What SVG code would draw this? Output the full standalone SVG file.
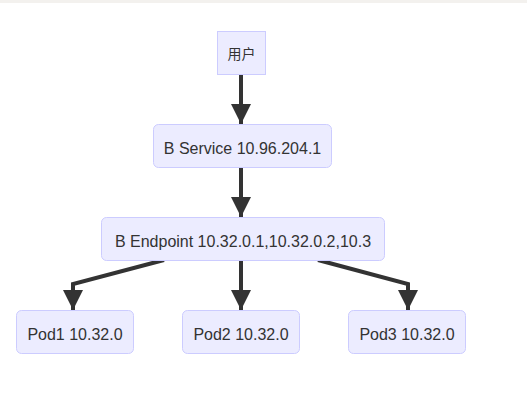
<svg xmlns="http://www.w3.org/2000/svg" width="527" height="396" viewBox="0 0 527 396">
<style>
.n{fill:#ECECFF;stroke:#CCCCFF;stroke-width:1}
.t{font-family:"Liberation Sans","Noto Sans CJK SC",sans-serif;font-size:16px;fill:#333;text-anchor:middle;dominant-baseline:central}
.c{font-size:14px}
.e{fill:none;stroke:#333;stroke-width:4}
</style>
<defs>
<marker id="ah" markerWidth="20" markerHeight="20" viewBox="0 0 20 20" refX="20" refY="10" markerUnits="userSpaceOnUse" orient="auto">
<path d="M0,0 L20,10 L0,20 Z" fill="#333"/>
</marker>
</defs>
<rect x="0" y="0" width="527" height="3" fill="#F3F1EE"/>
<g id="edges">
<path class="e" d="M241,74 L241,124" marker-end="url(#ah)"/>
<path class="e" d="M241,167 L241,217" marker-end="url(#ah)"/>
<path class="e" d="M164,260 L73,284 L73,310" marker-end="url(#ah)"/>
<path class="e" d="M241,260 L241,310" marker-end="url(#ah)"/>
<path class="e" d="M318,260 L408,284 L408,310" marker-end="url(#ah)"/>
</g>
<g id="user"><rect class="n" x="217.5" y="31.5" width="48" height="43"/><text class="t c" x="241.5" y="54">用户</text></g>
<g id="service"><rect class="n" x="153.5" y="124.5" width="178" height="43" rx="5"/><text class="t" x="242.5" y="148">B Service 10.96.204.1</text></g>
<g id="endpoint"><rect class="n" x="101.5" y="217.5" width="283" height="43" rx="5"/><text class="t" x="243" y="241">B Endpoint 10.32.0.1,10.32.0.2,10.3</text></g>
<g id="pod1"><rect class="n" x="16.5" y="310.5" width="117" height="43" rx="5"/><text class="t" x="75" y="334">Pod1 10.32.0</text></g>
<g id="pod2"><rect class="n" x="182.5" y="310.5" width="117" height="43" rx="5"/><text class="t" x="241" y="334">Pod2 10.32.0</text></g>
<g id="pod3"><rect class="n" x="348.5" y="310.5" width="117" height="43" rx="5"/><text class="t" x="407" y="334">Pod3 10.32.0</text></g>
</svg>
